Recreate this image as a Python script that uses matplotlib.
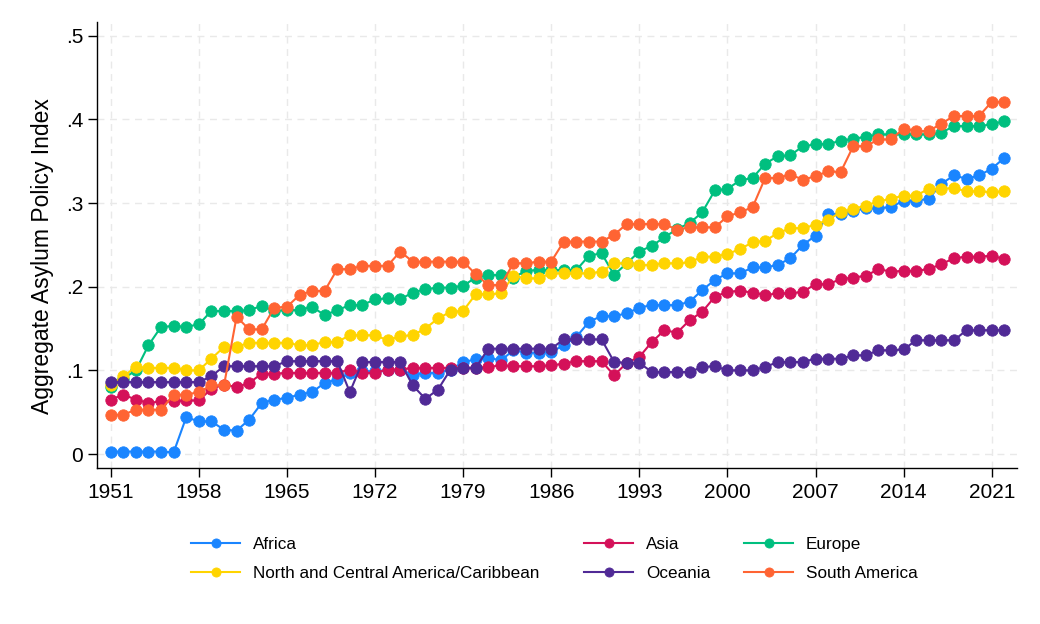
import matplotlib.pyplot as plt
import numpy as np

plt.rcParams['font.family'] = ['Liberation Sans', 'DejaVu Sans']

years = np.arange(1951, 2023)

africa = [0.003, 0.003, 0.003, 0.003, 0.003, 0.002, 0.044, 0.039, 0.039, 0.029,
          0.028, 0.041, 0.061, 0.065, 0.067, 0.071, 0.074, 0.085, 0.089, 0.097,
          0.099, 0.099, 0.100, 0.101, 0.095, 0.097, 0.097, 0.101, 0.110, 0.113,
          0.115, 0.112, 0.124, 0.121, 0.121, 0.122, 0.130, 0.140, 0.158, 0.165,
          0.165, 0.168, 0.175, 0.178, 0.178, 0.178, 0.182, 0.196, 0.208, 0.216,
          0.216, 0.223, 0.223, 0.226, 0.234, 0.250, 0.261, 0.287, 0.287, 0.290,
          0.294, 0.294, 0.295, 0.303, 0.303, 0.305, 0.323, 0.333, 0.329, 0.333,
          0.341, 0.354]
asia = [0.065, 0.071, 0.065, 0.061, 0.063, 0.063, 0.064, 0.064, 0.078, 0.083,
        0.080, 0.085, 0.096, 0.096, 0.097, 0.097, 0.097, 0.097, 0.097, 0.101,
        0.097, 0.097, 0.101, 0.101, 0.103, 0.103, 0.103, 0.103, 0.103, 0.103,
        0.104, 0.106, 0.105, 0.105, 0.105, 0.106, 0.108, 0.111, 0.111, 0.111,
        0.094, 0.109, 0.116, 0.134, 0.148, 0.145, 0.160, 0.170, 0.188, 0.194,
        0.195, 0.193, 0.190, 0.192, 0.192, 0.194, 0.203, 0.203, 0.209, 0.211,
        0.213, 0.221, 0.218, 0.219, 0.219, 0.221, 0.227, 0.234, 0.236, 0.236,
        0.237, 0.233]
europe = [0.080, 0.090, 0.100, 0.130, 0.152, 0.153, 0.152, 0.155, 0.171, 0.171,
          0.171, 0.172, 0.177, 0.171, 0.172, 0.172, 0.176, 0.166, 0.172, 0.178,
          0.178, 0.185, 0.186, 0.185, 0.193, 0.197, 0.199, 0.199, 0.201, 0.211,
          0.214, 0.214, 0.211, 0.219, 0.220, 0.220, 0.220, 0.220, 0.237, 0.240,
          0.214, 0.228, 0.242, 0.249, 0.259, 0.269, 0.276, 0.289, 0.315, 0.317,
          0.327, 0.330, 0.347, 0.356, 0.357, 0.368, 0.370, 0.371, 0.374, 0.377,
          0.379, 0.382, 0.382, 0.382, 0.382, 0.382, 0.384, 0.392, 0.392, 0.392,
          0.394, 0.398]
ncac = [0.083, 0.093, 0.104, 0.103, 0.103, 0.103, 0.100, 0.100, 0.114, 0.128,
        0.128, 0.133, 0.133, 0.133, 0.133, 0.130, 0.130, 0.134, 0.134, 0.142,
        0.142, 0.142, 0.136, 0.141, 0.142, 0.150, 0.162, 0.170, 0.171, 0.191,
        0.191, 0.192, 0.213, 0.210, 0.210, 0.216, 0.216, 0.216, 0.216, 0.218,
        0.228, 0.228, 0.226, 0.226, 0.228, 0.228, 0.229, 0.236, 0.236, 0.239,
        0.245, 0.253, 0.255, 0.264, 0.270, 0.270, 0.274, 0.280, 0.289, 0.293,
        0.297, 0.302, 0.305, 0.309, 0.309, 0.317, 0.317, 0.318, 0.314, 0.314,
        0.313, 0.314]
oceania = [0.086, 0.086, 0.086, 0.086, 0.086, 0.086, 0.086, 0.086, 0.093, 0.105,
           0.105, 0.105, 0.105, 0.105, 0.111, 0.111, 0.111, 0.111, 0.111, 0.074,
           0.110, 0.110, 0.110, 0.110, 0.082, 0.066, 0.077, 0.101, 0.103, 0.103,
           0.126, 0.126, 0.126, 0.126, 0.126, 0.126, 0.137, 0.137, 0.137, 0.137,
           0.110, 0.109, 0.109, 0.098, 0.098, 0.098, 0.098, 0.104, 0.105, 0.100,
           0.100, 0.100, 0.104, 0.110, 0.110, 0.110, 0.114, 0.114, 0.114, 0.118,
           0.118, 0.124, 0.124, 0.125, 0.136, 0.136, 0.136, 0.136, 0.148, 0.148,
           0.148, 0.148]
south_america = [0.047, 0.047, 0.053, 0.053, 0.053, 0.071, 0.071, 0.074, 0.082, 0.082,
                 0.164, 0.149, 0.149, 0.175, 0.176, 0.190, 0.195, 0.195, 0.221, 0.221,
                 0.225, 0.225, 0.225, 0.242, 0.230, 0.230, 0.230, 0.230, 0.230, 0.215,
                 0.202, 0.202, 0.228, 0.228, 0.230, 0.230, 0.254, 0.254, 0.254, 0.254,
                 0.262, 0.275, 0.275, 0.275, 0.275, 0.268, 0.271, 0.271, 0.271, 0.284,
                 0.289, 0.295, 0.330, 0.330, 0.334, 0.328, 0.332, 0.338, 0.337, 0.368,
                 0.368, 0.376, 0.376, 0.389, 0.386, 0.386, 0.395, 0.404, 0.404, 0.404,
                 0.421, 0.421]

names = ["Africa", "Asia", "Europe", "North and Central America/Caribbean",
         "Oceania", "South America"]
colors = ["#1a85ff", "#d41159", "#00bf7f", "#ffd400", "#502a96", "#ff6433"]

fig = plt.figure(figsize=(10.4, 6.24), dpi=100)
ax = fig.add_axes([97 / 1040, 1 - 468 / 624, 920 / 1040, 446 / 624])

handles = {}
for name, vals, col in zip(names, [africa, asia, europe, ncac, oceania, south_america], colors):
    h, = ax.plot(years, vals, color=col, lw=1.5, marker="o", ms=8.2,
                 mew=0.6, mec=col, mfc=col, label=name)
    handles[name] = h

ax.set_xlim(1949.91, 2023.01)
ax.set_ylim(-0.0167, 0.5164)
ax.set_xticks(np.arange(1951, 2022, 7))
ax.set_yticks([0, 0.1, 0.2, 0.3, 0.4, 0.5], ["0", ".1", ".2", ".3", ".4", ".5"])
ax.tick_params(axis="x", labelsize=15, length=6.3, width=1, pad=4.5)
ax.tick_params(axis="y", labelsize=15, length=6.5, width=1, pad=3.5)
ax.set_ylabel("Aggregate Asylum Policy Index", fontsize=16.5)
ax.yaxis.set_label_coords(-0.047, 0.476)

for s in ["top", "right"]:
    ax.spines[s].set_visible(False)
for s in ["left", "bottom"]:
    ax.spines[s].set_linewidth(1)

ax.set_axisbelow(True)
ax.grid(True, color="#e9e9e9", lw=1, linestyle=(0, (5, 4)))

# legend: one block per column, placed where the reference has them
cols = [["Africa", "North and Central America/Caribbean"],
        ["Asia", "Oceania"],
        ["Europe", "South America"]]
col_x = [191, 584, 744]
for labels, x in zip(cols, col_x):
    fig.legend(handles=[handles[l] for l in labels], labels=labels,
               loc="center left", bbox_to_anchor=(x / 1040, 1 - 559 / 624),
               frameon=False, borderpad=0, borderaxespad=0, fontsize=12.3,
               handlelength=2.87, handletextpad=0.75, labelspacing=0.84,
               markerscale=0.8)

fig.savefig("out.png", dpi=100)
